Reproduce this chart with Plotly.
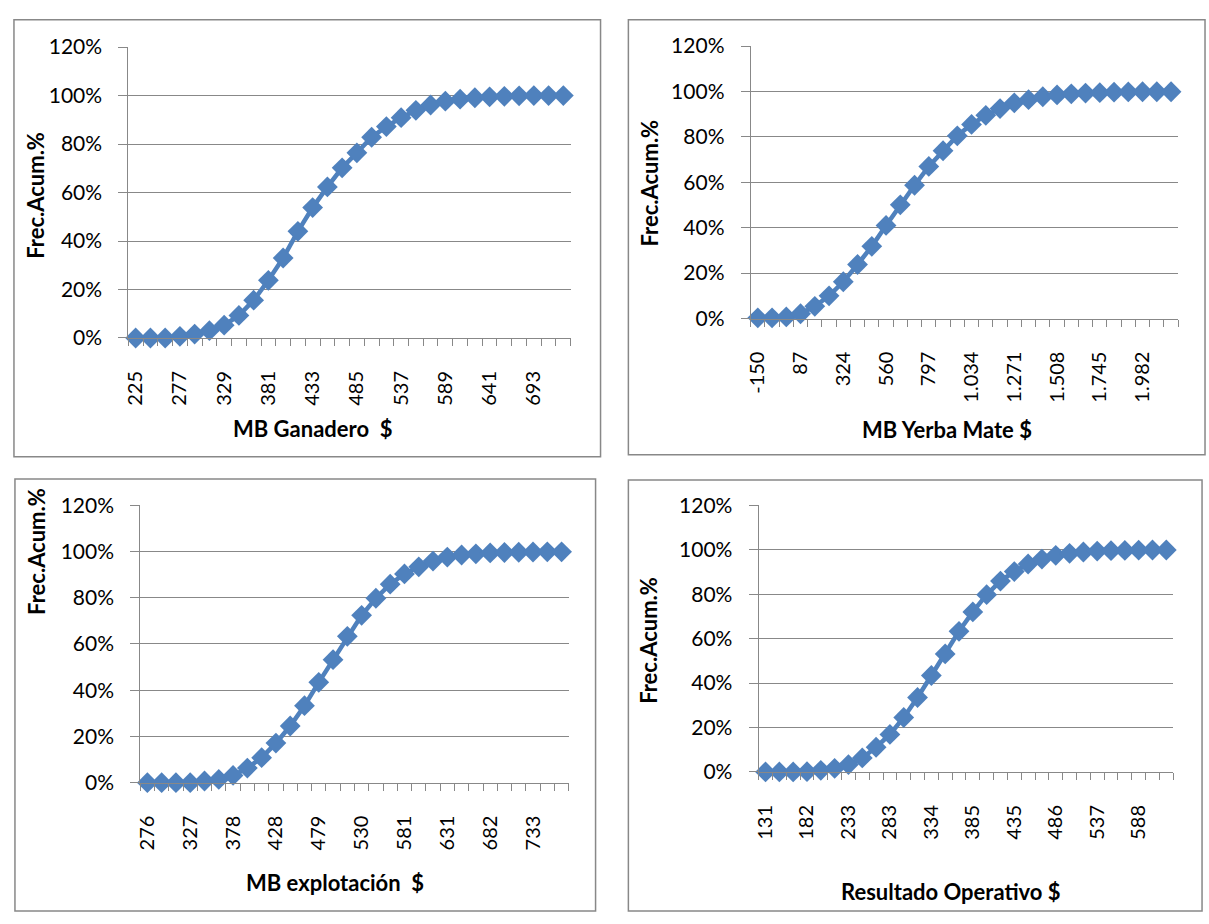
import plotly.graph_objects as go

# ---------------- data ----------------
cat_ganadero = ["225", "242", "260", "277", "294", "312", "329", "346", "364", "381",
                "398", "416", "433", "450", "468", "485", "502", "520", "537", "554",
                "572", "589", "606", "624", "641", "658", "676", "693", "710", "728"]
frec_ganadero = [0.0, 0.0, 0.0, 0.7, 1.6, 3.0, 5.3, 9.3, 15.6, 23.8,
                 33.0, 44.0, 53.8, 62.3, 70.2, 76.4, 82.8, 87.2, 90.9, 93.9,
                 96.1, 97.7, 98.5, 99.1, 99.5, 99.7, 99.9, 100.0, 100.0, 100.0]

cat_yerba = ["-150", "-71", "8", "87", "166", "245", "324", "403", "481", "560",
             "639", "718", "797", "876", "955", "1.034", "1.113", "1.192", "1.271", "1.350",
             "1.429", "1.508", "1.587", "1.666", "1.745", "1.824", "1.903", "1.982", "2.061", "2.140"]
frec_yerba = [0.3, 0.3, 0.7, 2.1, 5.4, 10.0, 16.2, 23.8, 31.8, 41.0,
              50.1, 58.7, 67.0, 73.9, 80.5, 85.5, 89.5, 92.5, 95.0, 96.4,
              97.7, 98.5, 99.0, 99.3, 99.5, 99.7, 99.8, 99.9, 99.9, 99.9]

cat_explot = ["276", "293", "310", "327", "344", "361", "378", "395", "411", "428",
              "445", "462", "479", "496", "513", "530", "547", "564", "581", "597",
              "614", "631", "648", "665", "682", "699", "716", "733", "750", "767"]
frec_explot = [0.0, 0.0, 0.0, 0.0, 0.7, 1.4, 3.1, 6.3, 10.8, 17.1,
               24.5, 33.3, 43.4, 53.2, 63.3, 72.4, 79.8, 85.9, 90.3, 93.4,
               95.9, 97.6, 98.5, 99.0, 99.4, 99.6, 99.7, 99.8, 99.9, 99.9]

cat_resultado = ["131", "148", "165", "182", "199", "216", "233", "249", "266", "283",
                 "300", "317", "334", "351", "368", "385", "401", "418", "435", "452",
                 "469", "486", "503", "520", "537", "554", "571", "588", "605", "621"]
frec_resultado = [0.0, 0.0, 0.0, 0.1, 0.7, 1.6, 3.3, 6.3, 11.1, 16.9,
                  24.5, 33.5, 43.4, 53.1, 63.3, 72.0, 79.8, 85.9, 90.2, 93.6,
                  95.8, 97.5, 98.4, 99.0, 99.4, 99.6, 99.7, 99.8, 99.9, 99.9]

x_titles = ["MB Ganadero  $", "MB Yerba Mate $", "MB explotación  $", "Resultado Operativo $"]
y_title = "Frec.Acum.%"
y_ticks = [0, 0.2, 0.4, 0.6, 0.8, 1.0, 1.2]
label_every = 3

# ---------------- layout geometry (page pixels) ----------------
W, H = 1209, 924


def px(x):
    return x / W


def py(y):
    return 1 - y / H


# plot areas: (left, right, top, bottom)
plot_px = [(122, 567, 34, 333), (748, 1178, 33, 313),
           (134, 565, 505, 790), (756, 1173, 505, 779)]
# frames: (left, top, right, bottom)
box_px = [(7, 6, 597, 455), (625, 6, 1205, 453),
          (8, 478, 592, 922), (625, 479, 1202, 922)]
xtitle_pos = [(308, 426), (945, 427), (330, 893), (950, 902)]
ytitle_pos = [(29, 186), (646, 174), (29, 552), (645, 644)]

FONT = "Lato"
BLUE = "#4F81BD"
GRID = "#888888"

fig = go.Figure()
series = [(cat_ganadero, frec_ganadero), (cat_yerba, frec_yerba),
          (cat_explot, frec_explot), (cat_resultado, frec_resultado)]

shapes, annotations = [], []
for i, (cats, vals) in enumerate(series):
    n = i + 1
    xs = list(range(len(cats)))
    ys = [v / 100 for v in vals]
    fig.add_trace(go.Scatter(
        x=xs, y=ys, mode="lines+markers", xaxis=f"x{n}", yaxis=f"y{n}",
        line=dict(color=BLUE, width=4.5),
        marker=dict(symbol="diamond", size=16, color=BLUE),
        showlegend=False, hoverinfo="skip", cliponaxis=False))
    l, r, t, b = plot_px[i]
    xa = dict(
        domain=[px(l), px(r)], range=[-0.5, len(cats) - 0.5],
        anchor=f"y{n}", showgrid=False, zeroline=False,
        showline=True, linecolor=GRID, linewidth=1,
        tickmode="array", tickvals=xs[::label_every], ticktext=cats[::label_every],
        ticks="", tickangle=-90,
        tickfont=dict(family=FONT, size=20, color="#000000"),
        minor=dict(ticks="outside", tick0=-0.5, dtick=1, ticklen=7,
                   tickcolor=GRID, tickwidth=1, showgrid=False),
        ticklabelstandoff=24,
    )
    ya = dict(
        domain=[py(b), py(t)], range=[0, 1.2],
        anchor=f"x{n}", tickmode="array", tickvals=y_ticks, tickformat=".0%",
        showgrid=True, gridcolor=GRID, gridwidth=1, zeroline=False,
        showline=True, linecolor=GRID, linewidth=1,
        ticks="outside", ticklen=9, tickcolor=GRID,
        tickfont=dict(family=FONT, size=21, color="#000000"),
        ticklabelstandoff=12,
    )
    fig.update_layout(**{f"xaxis{n}": xa, f"yaxis{n}": ya})

    bl, bt, br, bb = box_px[i]
    shapes.append(dict(type="rect", xref="paper", yref="paper",
                       x0=px(bl), x1=px(br), y0=py(bb), y1=py(bt),
                       line=dict(color=GRID, width=1.5), fillcolor="rgba(0,0,0,0)",
                       layer="below"))
    xt, yt = xtitle_pos[i]
    annotations.append(dict(text=f"<b>{x_titles[i]}</b>", xref="paper", yref="paper",
                            x=px(xt), y=py(yt), showarrow=False,
                            xanchor="center", yanchor="middle",
                            font=dict(family=FONT, size=22, color="#000000")))
    yx, yy = ytitle_pos[i]
    annotations.append(dict(text=f"<b>{y_title}</b>", xref="paper", yref="paper",
                            x=px(yx), y=py(yy), showarrow=False, textangle=-90,
                            xanchor="center", yanchor="middle",
                            font=dict(family=FONT, size=22, color="#000000")))

fig.update_layout(width=W, height=H, margin=dict(l=0, r=0, t=0, b=0),
                  paper_bgcolor="white", plot_bgcolor="white",
                  shapes=shapes, annotations=annotations)

page_js = ("document.body.style.margin='0px';"
           "document.body.style.overflow='hidden';"
           "document.documentElement.style.overflow='hidden';")
fig.write_html("out.html", post_script=page_js,
               config={"displayModeBar": False, "staticPlot": True})
